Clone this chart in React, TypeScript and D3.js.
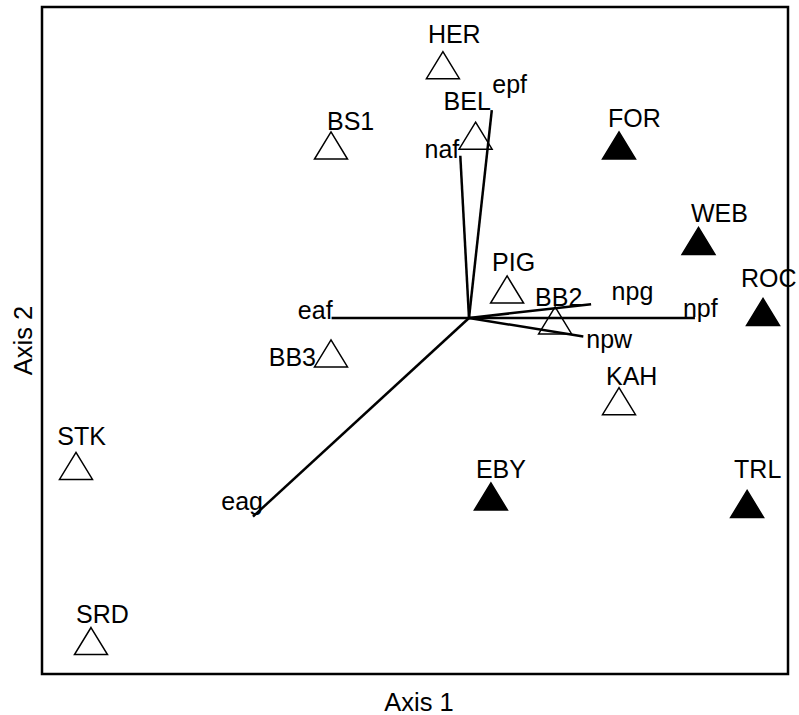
import React from "react";
import * as d3 from "d3";

// Site scores on the first two ordination axes
const siteNames = ["HER", "BS1", "BEL", "FOR", "WEB", "PIG", "BB2", "ROC", "BB3", "KAH", "STK", "EBY", "TRL", "SRD"];
const siteAxis1 = [-0.087, -0.46, 0.022, 0.5, 0.765, 0.127, 0.287, 0.98, -0.46, 0.5, -1.31, 0.073, 0.927, -1.26];
const siteAxis2 = [0.843, 0.575, 0.608, 0.575, 0.257, 0.095, -0.008, 0.02, -0.118, -0.277, -0.493, -0.595, -0.62, -1.077];
const siteGroup = ["open", "open", "open", "filled", "filled", "open", "open", "filled", "open", "open", "open", "filled", "filled", "open"];

// Variable vectors (biplot)
const vectorNames = ["epf", "naf", "eaf", "eag", "npg", "npf", "npw"];
const vectorAxis1 = [0.076, -0.029, -0.458, -0.72, 0.407, 0.753, 0.381];
const vectorAxis2 = [0.693, 0.541, 0.0, -0.662, 0.046, 0.0, -0.062];

const axisTitles = ["Axis 1", "Axis 2"];

// Label placement relative to each symbol centre (pixels)
const siteLabelLayout: Record<string, { dx: number; dy: number; anchor: string }> = {
  HER: { dx: -15, dy: -22, anchor: "start" },
  BS1: { dx: -4, dy: -15.5, anchor: "start" },
  BEL: { dx: -32, dy: -25.5, anchor: "start" },
  FOR: { dx: -11, dy: -19, anchor: "start" },
  WEB: { dx: -7.5, dy: -19.3, anchor: "start" },
  PIG: { dx: -15, dy: -19, anchor: "start" },
  BB2: { dx: -20, dy: -14.5, anchor: "start" },
  ROC: { dx: -22, dy: -24.7, anchor: "start" },
  BB3: { dx: -15, dy: 13, anchor: "end" },
  KAH: { dx: -13, dy: -16, anchor: "start" },
  STK: { dx: -18.7, dy: -21, anchor: "start" },
  EBY: { dx: -15, dy: -18, anchor: "start" },
  TRL: { dx: -13, dy: -26, anchor: "start" },
  SRD: { dx: -15, dy: -17.7, anchor: "start" },
};

const vectorLabelLayout: Record<string, { dx: number; dy: number; anchor: string }> = {
  epf: { dx: 0.5, dy: -17, anchor: "start" },
  naf: { dx: -1, dy: 2, anchor: "end" },
  eaf: { dx: 1, dy: 1, anchor: "end" },
  eag: { dx: 10, dy: -7, anchor: "end" },
  npg: { dx: 20.5, dy: -4, anchor: "start" },
  npf: { dx: -12, dy: -1, anchor: "start" },
  npw: { dx: 3, dy: 11, anchor: "start" },
};

const W = 799;
const H = 715;
const frame = { left: 42, right: 788, top: 7, bottom: 674 };
const FONT = "'Liberation Sans', Arial, Helvetica, sans-serif";
const LABEL_SIZE = 25;
const TITLE_SIZE = 25.5;

// Triangle symbol: about 33px wide and 27px tall, centred on its bounding box
const triangleType = {
  draw(context: d3.Path, size: number) {
    const w = Math.sqrt(size) * 1.1;
    const h = w * 0.82;
    context.moveTo(0, -h / 2);
    context.lineTo(w / 2, h / 2);
    context.lineTo(-w / 2, h / 2);
    context.closePath();
  },
};

export default function App() {
  const x = d3.scaleLinear().domain([-1.4233, 1.0633]).range([frame.left, frame.right]);
  const y = d3.scaleLinear().domain([-1.1867, 1.0367]).range([frame.bottom, frame.top]);

  const tri = d3.symbol().type(triangleType as any).size(900)();

  const x0 = x(0);
  const y0 = y(0);

  return (
    <svg
      width={W}
      height={H}
      style={{ position: "absolute", left: 0, top: 0, background: "#fff" }}
      fontFamily={FONT}
    >
      <rect x={0} y={0} width={W} height={H} fill="#fff" />
      <rect
        x={frame.left}
        y={frame.top}
        width={frame.right - frame.left}
        height={frame.bottom - frame.top}
        fill="none"
        stroke="#000"
        strokeWidth={2.5}
      />

      {vectorNames.map((name, i) => {
        const ex = x(vectorAxis1[i]);
        const ey = y(vectorAxis2[i]);
        const lay = vectorLabelLayout[name];
        return (
          <g key={name}>
            <line x1={x0} y1={y0} x2={ex} y2={ey} stroke="#000" strokeWidth={2.5} strokeLinecap="butt" />
            <text x={ex + lay.dx} y={ey + lay.dy} fontSize={LABEL_SIZE} textAnchor={lay.anchor} fill="#000">
              {name}
            </text>
          </g>
        );
      })}

      {siteNames.map((name, i) => {
        const cx = x(siteAxis1[i]);
        const cy = y(siteAxis2[i]);
        const lay = siteLabelLayout[name];
        const filled = siteGroup[i] === "filled";
        return (
          <g key={name}>
            <path
              d={tri || ""}
              transform={`translate(${cx},${cy})`}
              fill={filled ? "#000" : "#fff"}
              fillOpacity={filled ? 1 : 0}
              stroke="#000"
              strokeWidth={1.5}
              strokeLinejoin="miter"
            />
            <text x={cx + lay.dx} y={cy + lay.dy} fontSize={LABEL_SIZE} textAnchor={lay.anchor} fill="#000">
              {name}
            </text>
          </g>
        );
      })}

      <text x={(frame.left + frame.right) / 2 + 4} y={711} fontSize={TITLE_SIZE} textAnchor="middle" fill="#000">
        {axisTitles[0]}
      </text>
      <text
        transform={`translate(32,${(frame.top + frame.bottom) / 2}) rotate(-90)`}
        fontSize={TITLE_SIZE}
        textAnchor="middle"
        fill="#000"
      >
        {axisTitles[1]}
      </text>
    </svg>
  );
}
